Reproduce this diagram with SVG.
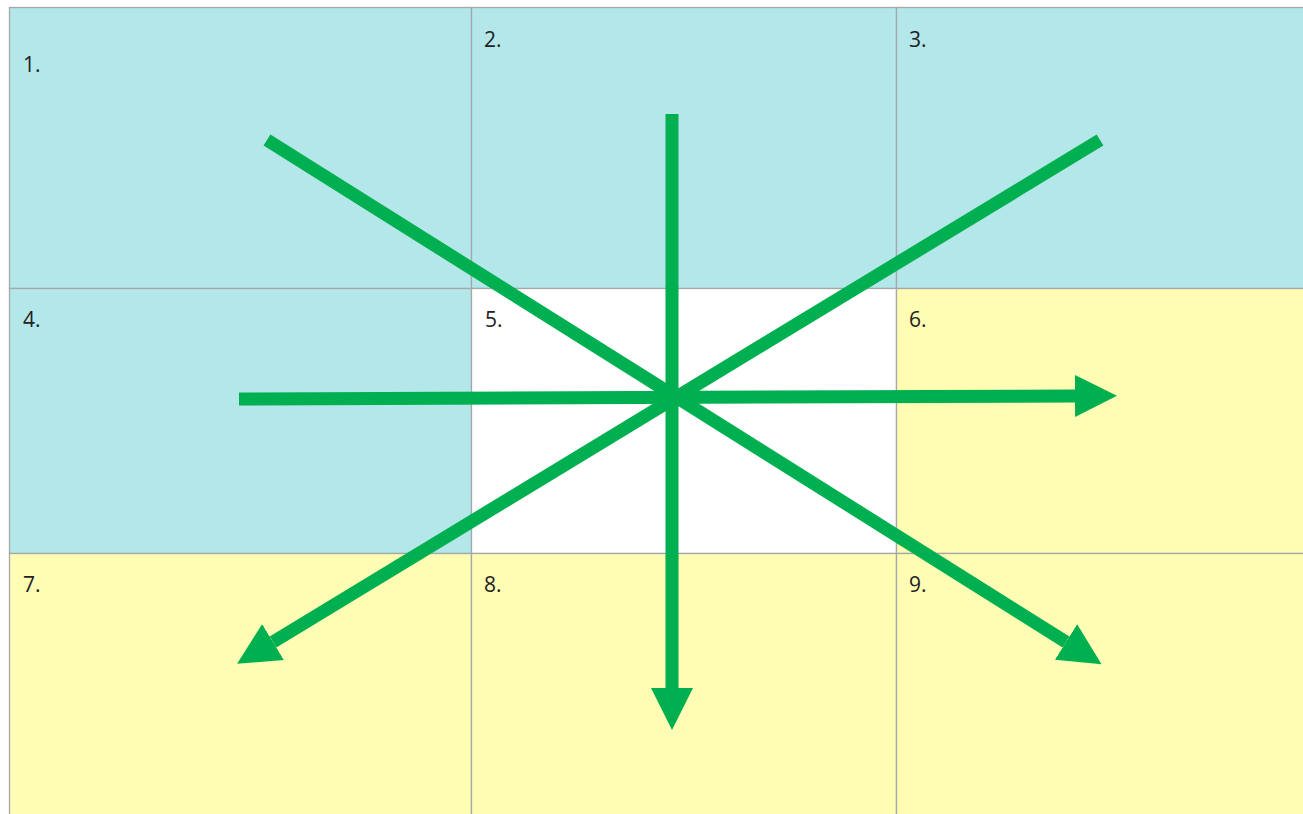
<svg xmlns="http://www.w3.org/2000/svg" width="1303" height="814" viewBox="0 0 1303 814">
<style>
.blue{fill:#B3E7EA;stroke:#A3A9AA;stroke-width:1.3}
.yel{fill:#FFFCB4;stroke:#A3A9AA;stroke-width:1.3}
.wht{fill:#FFFFFF;stroke:#A3A9AA;stroke-width:1.3}
.lbl{font-family:"Open Sans",sans-serif;font-size:21px;fill:#222222}
.arr{stroke:#00B050;stroke-width:13;fill:none;marker-end:url(#head)}
</style>
<defs>
<marker id="head" markerUnits="userSpaceOnUse" markerWidth="42" markerHeight="42" refX="0" refY="21" orient="auto" viewBox="0 0 42 42">
<path d="M0,0 L42,21 L0,42 z" fill="#00B050"/>
</marker>
</defs>
<rect width="1303" height="814" fill="#FFFFFF"/>
<g id="cell1"><rect class="blue" x="9.5" y="7.5" width="462" height="281"/><text class="lbl" x="23" y="72">1.</text></g>
<g id="cell2"><rect class="blue" x="471.5" y="7.5" width="425" height="281"/><text class="lbl" x="484" y="47">2.</text></g>
<g id="cell3"><rect class="blue" x="896.5" y="7.5" width="420" height="281"/><text class="lbl" x="909" y="47">3.</text></g>
<g id="cell4"><rect class="blue" x="9.5" y="288.5" width="462" height="265"/><text class="lbl" x="23" y="327">4.</text></g>
<g id="cell5"><rect class="wht" x="471.5" y="288.5" width="425" height="265"/><text class="lbl" x="485" y="327">5.</text></g>
<g id="cell6"><rect class="yel" x="896.5" y="288.5" width="420" height="265"/><text class="lbl" x="909" y="327">6.</text></g>
<g id="cell7"><rect class="yel" x="9.5" y="553.5" width="462" height="280"/><text class="lbl" x="23" y="592">7.</text></g>
<g id="cell8"><rect class="yel" x="471.5" y="553.5" width="425" height="280"/><text class="lbl" x="484" y="592">8.</text></g>
<g id="cell9"><rect class="yel" x="896.5" y="553.5" width="420" height="280"/><text class="lbl" x="909" y="592">9.</text></g>
<g id="connectors">
<line class="arr" x1="239" y1="399" x2="1075" y2="396"/>
<line class="arr" x1="672" y1="114" x2="672" y2="688"/>
<line class="arr" x1="267" y1="140" x2="1066" y2="642"/>
<line class="arr" x1="1100" y1="140" x2="273" y2="642"/>
</g>
</svg>
